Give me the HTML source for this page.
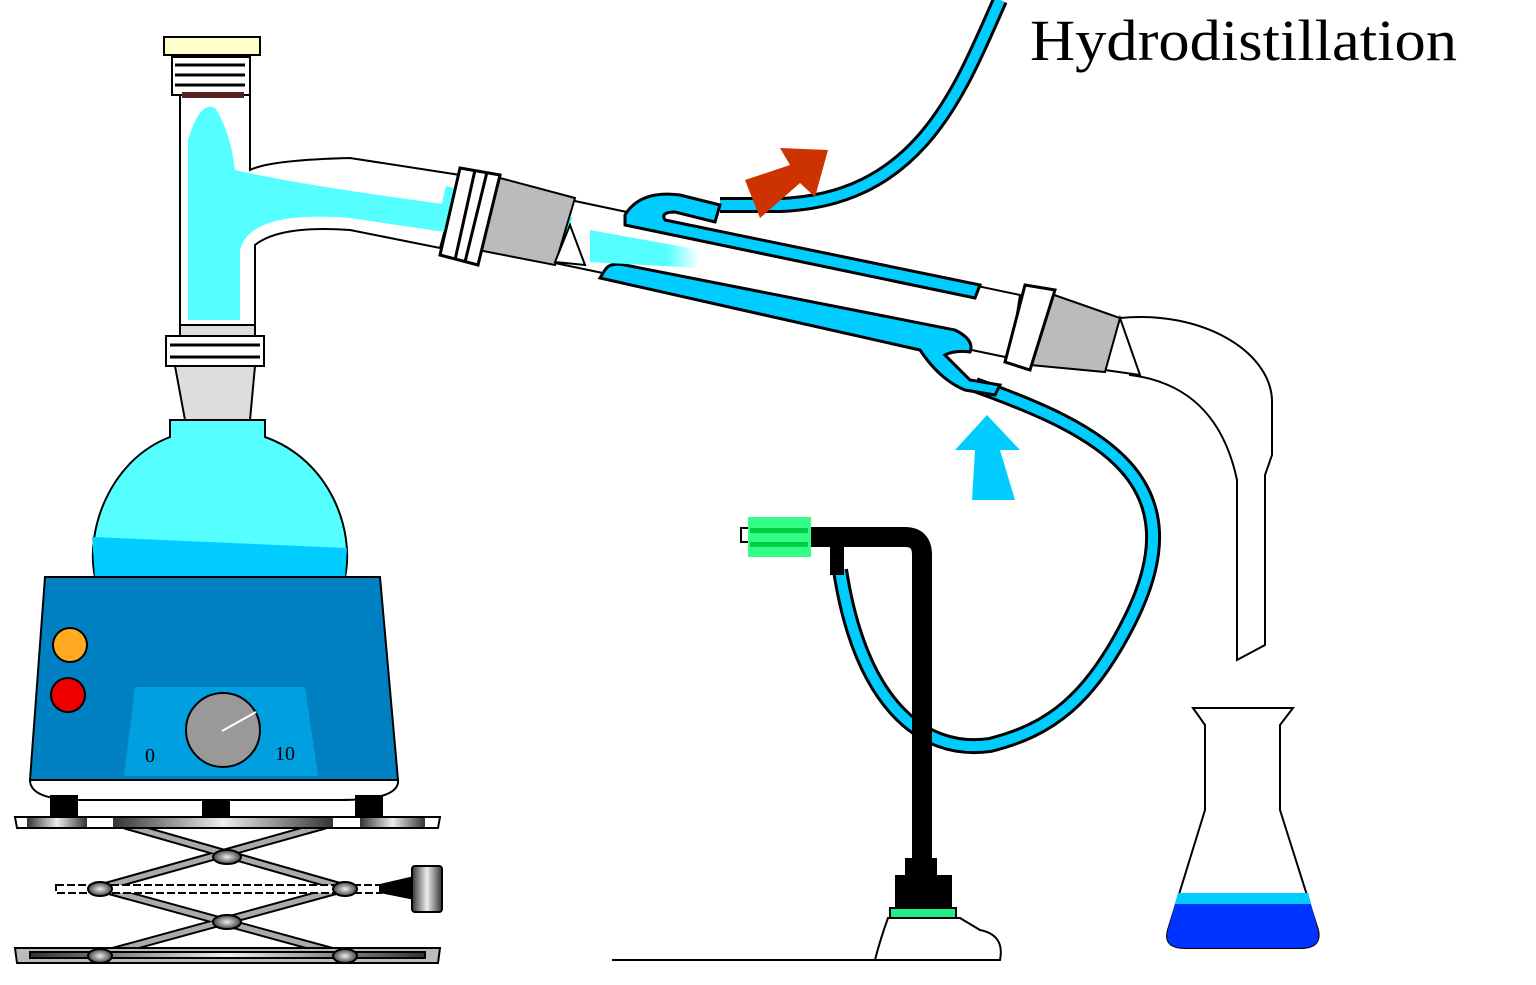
<!DOCTYPE html>
<html><head><style>html,body{margin:0;padding:0;background:#fff}svg{display:block}</style></head>
<body>
<svg width="1536" height="985" viewBox="0 0 1536 985" xmlns="http://www.w3.org/2000/svg">
<defs>
<linearGradient id="met" x1="0" x2="1" y1="0" y2="0">
<stop offset="0" stop-color="#333"/><stop offset="0.5" stop-color="#eee"/><stop offset="1" stop-color="#333"/></linearGradient>
<radialGradient id="knob"><stop offset="0" stop-color="#eee"/><stop offset="1" stop-color="#444"/></radialGradient>
<linearGradient id="vap" x1="0" x2="1"><stop offset="0" stop-color="#5ff"/><stop offset="0.7" stop-color="#5ff"/><stop offset="1" stop-color="#fff"/></linearGradient>
</defs>
<text x="1030" y="60" font-family="Liberation Serif, serif" font-size="58" textLength="427" lengthAdjust="spacingAndGlyphs">Hydrodistillation</text>

<!-- top tube -->
<path d="M1000,0 C960,90 920,200 780,205 L720,205" fill="none" stroke="#000" stroke-width="16"/>
<path d="M1000,0 C960,90 920,200 780,205 L720,205" fill="none" stroke="#0cf" stroke-width="10"/>
<!-- lower tube -->
<path d="M975,385 C1100,430 1200,480 1130,620 C1090,700 1050,730 990,745 C920,755 860,700 840,570" fill="none" stroke="#000" stroke-width="16"/>
<path d="M975,385 C1100,430 1200,480 1130,620 C1090,700 1050,730 990,745 C920,755 860,700 840,570" fill="none" stroke="#0cf" stroke-width="10"/>

<!-- stand -->
<path d="M810,537 L905,537 Q922,537 922,555 L922,860" fill="none" stroke="#000" stroke-width="20"/>
<rect x="830" y="545" width="14" height="30" fill="#000"/>
<rect x="905" y="858" width="32" height="20" fill="#000"/>
<rect x="895" y="875" width="57" height="35" fill="#000"/>
<rect x="890" y="908" width="66" height="10" fill="#2e8" stroke="#000" stroke-width="2"/>
<path d="M612,960 L1000,960 Q1005,935 980,930 L960,918 L888,918 Q880,940 875,960" fill="none" stroke="#000" stroke-width="2"/>
<rect x="741" y="528" width="10" height="14" fill="#fff" stroke="#000" stroke-width="2"/>
<rect x="748" y="517" width="63" height="40" fill="#3f8"/>
<rect x="750" y="528" width="58" height="5" fill="#0c4"/><rect x="750" y="542" width="58" height="5" fill="#0c4"/>

<!-- adapter -->
<path d="M1120,318 C1200,310 1270,350 1272,400 L1272,455 L1265,475 L1265,645 L1237,660 L1237,480 C1220,400 1170,380 1130,375 Z" fill="#fff" stroke="#000" stroke-width="2"/>
<polygon points="1120,318 1140,375 1105,370" fill="#fff" stroke="#000" stroke-width="2"/>

<!-- condenser -->
<polygon points="570,200 1020,295 1010,358 550,262" fill="#fff" stroke="#000" stroke-width="2"/>
<path d="M625,215 Q640,190 680,195 L720,205 L715,222 L675,212 Q660,212 665,220 L980,285 L975,298 L625,225 Z" fill="#0cf" stroke="#000" stroke-width="3"/>
<path d="M605,270 Q610,262 625,265 L955,330 Q975,340 970,352 Q955,350 945,355 L970,380 L1000,385 L995,395 L965,390 Q940,380 920,350 L600,278 Z" fill="#0cf" stroke="#000" stroke-width="3"/>
<polygon points="590,230 700,250 700,268 590,262" fill="url(#vap)"/>

<!-- right joint -->
<polygon points="1040,290 1120,318 1105,372 1030,365" fill="#bbb" stroke="#000" stroke-width="2"/>
<polygon points="1025,285 1055,290 1030,370 1005,362" fill="#fff" stroke="#000" stroke-width="3"/>

<!-- column + side arm -->
<path d="M180,95 L250,95 L250,170 Q270,160 350,158 L460,175 L440,248 L350,230 Q280,225 255,245 L255,325 L180,325 Z" fill="#fff" stroke="#000" stroke-width="2"/>
<path d="M188,320 L188,140 Q200,100 215,108 Q230,130 235,170 Q300,185 450,205 L445,232 L350,218 Q250,210 240,250 L240,320 Z" fill="#5ff"/>
<rect x="440" y="200" width="130" height="35" fill="#5ff" transform="rotate(14 500 218)"/>
<!-- left joint -->
<polygon points="500,178 575,198 555,265 478,250" fill="#bbb" stroke="#000" stroke-width="2"/>
<polygon points="555,262 570,225 585,265" fill="#fff" stroke="#000" stroke-width="2"/>
<polygon points="460,168 500,175 478,265 440,255" fill="#fff" stroke="#000" stroke-width="3"/>
<line x1="475" y1="170" x2="455" y2="260" stroke="#000" stroke-width="3"/>
<line x1="487" y1="172" x2="465" y2="262" stroke="#000" stroke-width="3"/>
<!-- cap -->
<rect x="172" y="57" width="78" height="38" fill="#fff" stroke="#000" stroke-width="2"/>
<path d="M175,65 L245,65 M175,75 L245,75 M175,85 L245,85" stroke="#000" stroke-width="3"/>
<rect x="182" y="92" width="62" height="6" fill="#522"/>
<rect x="164" y="37" width="96" height="18" fill="#ffc" stroke="#000" stroke-width="2"/>

<!-- flask -->
<path d="M180,325 L255,325 L255,338 L180,338 Z" fill="#ddd" stroke="#000" stroke-width="2"/>
<rect x="166" y="336" width="98" height="30" fill="#fff" stroke="#000" stroke-width="2"/>
<path d="M170,345 L260,345 M170,357 L260,357" stroke="#000" stroke-width="3"/>
<path d="M175,366 L255,366 L250,420 L185,420 Z" fill="#ddd" stroke="#000" stroke-width="2"/>
<path d="M170,420 L265,420 L265,437 C330,460 355,530 345,577 L95,577 C85,530 110,460 170,437 Z" fill="#5ff" stroke="#000" stroke-width="2"/>
<path d="M92,537 L347,548 L345,577 L95,577 Z" fill="#0cf"/>

<!-- heater -->
<path d="M30,780 L398,780 Q400,800 340,800 L80,800 Q30,800 30,780 Z" fill="#fff" stroke="#000" stroke-width="2"/>
<polygon points="45,577 380,577 398,780 30,780" fill="#0080c0" stroke="#000" stroke-width="2"/>
<circle cx="70" cy="645" r="17" fill="#fa2" stroke="#000" stroke-width="2"/>
<circle cx="68" cy="695" r="17" fill="#e00" stroke="#000" stroke-width="2"/>
<polygon points="135,687 305,687 318,776 124,776" fill="#00a0e0"/>
<circle cx="223" cy="730" r="37" fill="#999" stroke="#000" stroke-width="2"/>
<line x1="222" y1="731" x2="256" y2="712" stroke="#fff" stroke-width="2"/>
<text x="145" y="762" font-family="Liberation Serif, serif" font-size="20">0</text>
<text x="275" y="760" font-family="Liberation Serif, serif" font-size="20">10</text>
<!-- feet -->
<rect x="50" y="795" width="28" height="25" fill="#000"/><rect x="202" y="800" width="28" height="20" fill="#000"/><rect x="355" y="795" width="28" height="25" fill="#000"/>

<!-- jack -->
<g stroke="#000" stroke-width="2">
<line x1="125" y1="825" x2="345" y2="888" stroke-width="9"/><line x1="325" y1="825" x2="100" y2="888" stroke-width="9"/>
<line x1="100" y1="888" x2="345" y2="955" stroke-width="9"/><line x1="345" y1="888" x2="100" y2="955" stroke-width="9"/>
<line x1="125" y1="825" x2="345" y2="888" stroke="#aaa" stroke-width="5"/><line x1="325" y1="825" x2="100" y2="888" stroke="#aaa" stroke-width="5"/>
<line x1="100" y1="888" x2="345" y2="955" stroke="#aaa" stroke-width="5"/><line x1="345" y1="888" x2="100" y2="955" stroke="#aaa" stroke-width="5"/>
<polygon points="15,817 440,817 438,828 17,828" fill="#fff"/>
<rect x="27" y="818" width="60" height="9" fill="url(#met)" stroke="none"/>
<rect x="113" y="818" width="220" height="9" fill="url(#met)" stroke="none"/>
<rect x="360" y="818" width="65" height="9" fill="url(#met)" stroke="none"/>
<rect x="56" y="885" width="325" height="8" fill="#fff" stroke-dasharray="8 3"/>
<polygon points="380,885 410,878 410,898 380,892" fill="#000"/>
<rect x="412" y="866" width="30" height="46" rx="3" fill="url(#met)"/>
<polygon points="15,948 440,948 438,963 17,963" fill="#bbb"/>
<rect x="30" y="952" width="395" height="6" fill="url(#met)"/>
<ellipse cx="227" cy="857" rx="14" ry="7" fill="url(#knob)"/><ellipse cx="227" cy="922" rx="14" ry="7" fill="url(#knob)"/>
<ellipse cx="100" cy="889" rx="12" ry="7" fill="url(#knob)"/><ellipse cx="345" cy="889" rx="12" ry="7" fill="url(#knob)"/>
<ellipse cx="100" cy="956" rx="12" ry="7" fill="url(#knob)"/><ellipse cx="345" cy="956" rx="12" ry="7" fill="url(#knob)"/>
</g>

<!-- erlenmeyer -->
<path d="M1193,708 L1293,708 L1280,725 L1280,810 L1318,930 Q1322,948 1300,948 L1185,948 Q1163,948 1168,930 L1205,810 L1205,725 Z" fill="#fff" stroke="#000" stroke-width="2"/>
<path d="M1178,893 L1308,893 L1318,930 Q1322,948 1300,948 L1185,948 Q1163,948 1168,930 Z" fill="#03f"/>
<path d="M1178,893 L1308,893 L1311,904 L1175,904 Z" fill="#0cf"/>

<!-- arrows -->
<polygon points="760,218 745,180 790,165 780,148 828,150 815,197 800,183" fill="#c30"/>
<polygon points="987,415 1020,450 1000,450 1015,500 972,500 975,450 955,450" fill="#0cf"/>
</svg>
</body></html>
